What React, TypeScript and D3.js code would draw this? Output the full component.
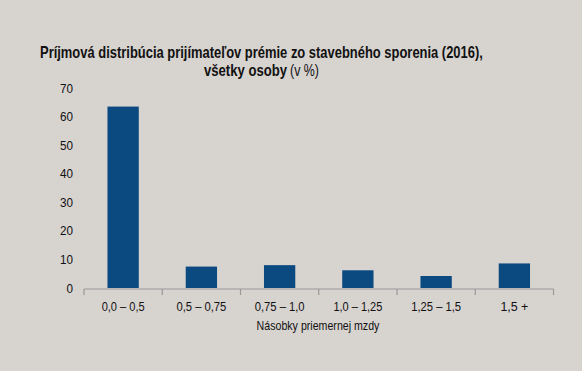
import React, { useLayoutEffect, useRef, useState } from "react";
import * as d3 from "d3";

const categories = ["0,0 – 0,5", "0,5 – 0,75", "0,75 – 1,0", "1,0 – 1,25", "1,25 – 1,5", "1,5 +"];
const values = [63.5, 7.5, 8.0, 6.2, 4.2, 8.6];
const yTicks = [0, 10, 20, 30, 40, 50, 60, 70];
const titleLine1 = "Príjmová distribúcia prijímateľov prémie zo stavebného sporenia (2016),";
const titleLine2Bold = "všetky osoby";
const titleLine2Normal = "(v %)";
const xTitle = "Násobky priemernej mzdy";

const W = 582, H = 371;
const FONT = "'Liberation Sans Narrow', 'Arial Narrow', 'Liberation Sans', sans-serif";
const catWidths = [43, 50, 50, 49, 50, 28];

type FitProps = {
  x: number; y: number; width: number; anchor?: "start" | "middle" | "end";
  fontSize: number; bold?: boolean; dy?: string; children: string;
};

function FitText({ x, y, width, anchor = "start", fontSize, bold, dy, children }: FitProps) {
  const ref = useRef<SVGTextElement>(null);
  const [sx, setSx] = useState(1);
  useLayoutEffect(() => {
    if (ref.current) {
      const w = ref.current.getComputedTextLength();
      if (w > 0) setSx(width / w);
    }
  }, [width, children, fontSize]);
  return (
    <g transform={`translate(${x},${y}) scale(${sx},1)`}>
      <text ref={ref} x={0} y={0} dy={dy} textAnchor={anchor} fontSize={fontSize} fontWeight={bold ? "bold" : "normal"} fill="#111">{children}</text>
    </g>
  );
}

export default function App() {
  const x = d3.scaleBand<string>().domain(categories).range([84, 553.5]).paddingInner(0.6).paddingOuter(0.3);
  const y = d3.scaleLinear().domain([0, 70]).range([288, 88]);
  const band = d3.scaleBand<string>().domain(categories).range([84, 553.5]);
  return (
    <svg width={W} height={H} style={{ position: "absolute", left: 0, top: 0 }} fontFamily={FONT}>
      <rect x={0} y={0} width={W} height={H} fill="#d7d3cf" />
      <FitText x={40} y={57.5} width={443} fontSize={16} bold>{titleLine1}</FitText>
      <FitText x={204} y={76} width={83} fontSize={16} bold>{titleLine2Bold}</FitText>
      <FitText x={290} y={76} width={29} fontSize={16}>{titleLine2Normal}</FitText>
      {yTicks.map((t) => (
        <FitText key={t} x={73} y={y(t)} dy="0.35em" anchor="end" fontSize={13} width={String(t).length * 6.5}>{String(t)}</FitText>
      ))}
      {categories.map((c, i) => (
        <rect key={c} x={x(c)} y={y(values[i])} width={x.bandwidth()} height={y(0) - y(values[i])} fill="#0b4a80" />
      ))}
      <line x1={84} x2={553.5} y1={289} y2={289} stroke="#999" strokeWidth={1.2} />
      {[...categories.map((c) => band(c)!), 553.5].map((v, i) => (
        <line key={i} x1={v} x2={v} y1={289} y2={295} stroke="#999" strokeWidth={1.2} />
      ))}
      {categories.map((c, i) => (
        <FitText key={c} x={band(c)! + band.bandwidth() / 2} y={311} anchor="middle" fontSize={13} width={catWidths[i]}>{c}</FitText>
      ))}
      <FitText x={318} y={330} anchor="middle" fontSize={13} width={123}>{xTitle}</FitText>
    </svg>
  );
}
